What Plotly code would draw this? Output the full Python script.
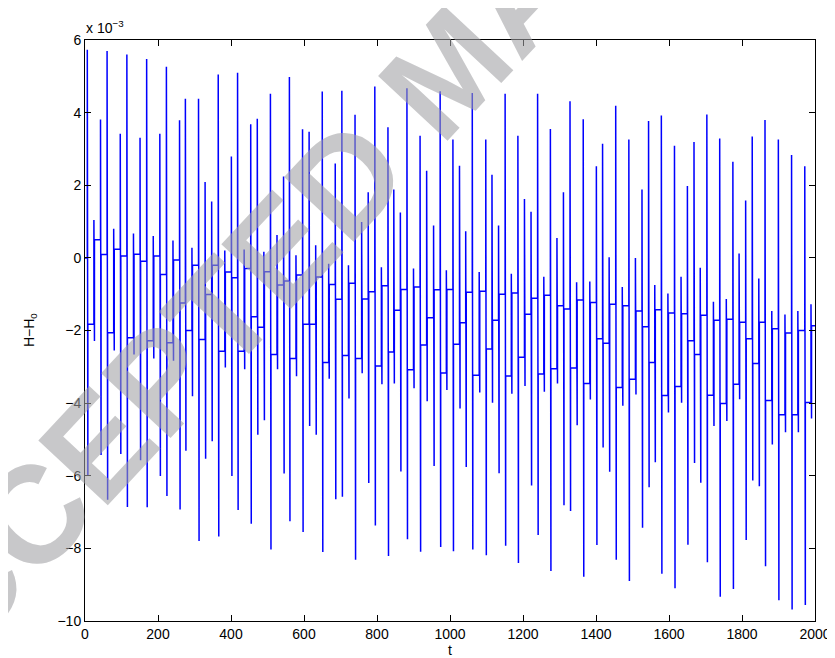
import plotly.graph_objects as go

# Values of H-H0 are in units of 1e-3 (axis carries the "x 10^-3" multiplier)
spike_t = [6.3, 24.4, 42.5, 60.5, 78.6, 96.6, 114.7, 132.8, 150.8, 168.9,
           187, 205, 223, 241, 259, 275, 293, 311, 329, 347,
           365, 383, 401, 418, 436, 454, 472, 490, 508, 526,
           544, 560, 578, 596, 614, 632, 650,
           667.6, 685.6, 703.7, 721.8, 739.8, 757.9, 775.9, 794, 812, 830,
           846, 864, 882, 900, 918, 936, 955, 973,
           990, 1008, 1026, 1043, 1061, 1080, 1098, 1115, 1133, 1151,
           1168, 1186, 1204, 1222, 1240, 1257, 1275, 1293,
           1310.8, 1328.8, 1346.9, 1365, 1383, 1401, 1418, 1436, 1454, 1472,
           1490, 1508, 1526, 1544, 1561, 1579, 1597, 1615, 1633,
           1650.4, 1668.5, 1685.6, 1703.7, 1721.7, 1738.9, 1757, 1775, 1792, 1810,
           1828, 1846, 1863, 1881.6, 1899.6, 1917.7, 1935.8, 1953, 1972, 1989]

spike_top = [5.73, 1.04, 3.81, 5.70, 0.80, 3.42, 5.60, 0.67, 3.31, 5.48,
             0.60, 3.42, 5.26, 0.48, 3.79, 4.38, 0.28, 4.38, 2.09, 1.55,
             5.05, 0.20, 2.79, 5.10, 0.23, 3.68, 3.83, 0.17, 4.52, 0.63,
             2.24, 4.98, 0.07, 3.54, 3.47, 0.35, 4.58,
             -0.16, 2.60, 4.60, -0.20, 3.94, 0.99, 1.81, 4.72, -0.26, 3.60,
             1.88, 1.25, 4.67, -0.29, 3.36, 2.40, 0.89, 4.59,
             -0.34, 3.26, 2.54, 0.73, 4.54, -0.39, 3.26, 2.29, 0.89, 4.52,
             -0.44, 3.36, 1.62, 1.27, 4.52, -0.52, 3.55, 0.55,
             1.81, 4.31, -0.67, 3.82, -0.65, 2.52, 3.14, 0.02, 4.19, -0.80,
             3.26, 0.00, 1.88, 3.77, -0.75, 3.92, -0.98, 3.09, -0.52,
             1.98, 3.19, -0.27, 3.95, -1.21, 3.29, -1.13, 2.65, 0.12, 1.58,
             3.34, -0.57, 3.80, -1.46, 3.26, -1.56, 2.83, -1.46, 2.52, -1.28]

spike_bottom = [-6.01, -2.29, -5.43, -6.66, -2.55, -5.40, -6.86, -2.66, -5.57, -6.87,
                -2.77, -6.01, -6.56, -2.83, -6.93, -5.31, -3.81, -7.80, -5.53, -5.05,
                -7.67, -3.02, -6.01, -6.94, -3.07, -7.32, -4.87, -4.47, -8.03, -3.07,
                -5.94, -7.25, -3.26, -7.55, -4.63, -4.87, -8.10,
                -3.33, -6.65, -6.58, -3.87, -8.31, -3.18, -6.20, -7.37, -3.48, -8.21,
                -3.46, -5.88, -7.75, -3.59, -8.09, -3.95, -5.73, -7.96,
                -3.64, -8.08, -4.15, -5.76, -8.03, -3.71, -8.19, -3.99, -5.93, -7.93,
                -3.74, -8.40, -3.53, -6.27, -7.63, -3.69, -8.62, -3.46,
                -6.81, -6.97, -4.61, -8.78, -3.90, -7.91, -5.22, -5.89, -8.31, -4.07,
                -8.90, -3.76, -7.43, -6.32, -5.63, -8.70, -4.26, -9.10, -3.99,
                -7.90, -5.65, -6.19, -8.38, -4.63, -9.33, -4.49, -9.12, -3.89, -7.77,
                -6.13, -6.29, -8.49, -5.14, -9.43, -4.80, -9.68, -4.80, -9.56, -4.42]

plateau_after = [-1.83, 0.50, 0.09, -2.06, 0.24, 0.05, -2.20, 0.10, -0.09, -2.28,
                 0.05, -0.46, -2.34, -0.06, -1.24, -2.00, -0.20, -2.25, -1.01, -0.20,
                 -2.57, -0.39, -0.55, -2.57, -0.29, -1.62, -1.91, -0.38, -2.66, -0.75,
                 -0.64, -2.77, -0.47, -1.83, -1.83, -0.53, -2.88,
                 -0.73, -1.14, -2.69, -0.70, -2.77, -1.13, -0.93, -2.98, -0.77, -2.59,
                 -1.44, -0.87, -3.08, -0.80, -2.40, -1.65, -0.88, -3.17,
                 -0.87, -2.38, -1.79, -0.95, -3.23, -0.92, -2.51, -1.72, -1.00, -3.25,
                 -0.97, -2.74, -1.55, -1.11, -3.20, -1.03, -3.05, -1.32,
                 -1.41, -3.03, -1.16, -3.46, -1.23, -2.23, -2.35, -1.28, -3.57, -1.32,
                 -3.34, -1.46, -1.90, -2.88, -1.43, -3.79, -1.52, -3.54, -1.54,
                 -2.28, -2.66, -1.58, -3.78, -1.72, -4.01, -1.69, -3.48, -1.77, -2.23,
                 -2.91, -1.77, -3.93, -1.95, -4.32, -2.07, -4.32, -2.00, -3.98, -1.87]

t_start, h_start = 0.0, 0.0
t_end = 2000.0
x_ticks = list(range(0, 2001, 200))
y_ticks = list(range(-10, 7, 2))

# build the polyline: plateau -> spike top -> spike bottom -> new plateau
xs = [t_start]
ys = [h_start]
prev = h_start
for t, top, bot, lev in zip(spike_t, spike_top, spike_bottom, plateau_after):
    xs += [t, t, t + 1.5, t + 1.5]
    ys += [prev, top, bot, lev]
    prev = lev
xs.append(t_end)
ys.append(prev)

FONT = "Liberation Sans, Arial, Helvetica, sans-serif"

fig = go.Figure()
fig.add_trace(go.Scatter(x=xs, y=ys, mode="lines",
                         line=dict(color="#0000ff", width=1.5),
                         hoverinfo="skip", showlegend=False))

axis_common = dict(showline=True, linecolor="black", linewidth=1,
                   mirror="allticks", ticks="inside", ticklen=6,
                   tickcolor="black", tickwidth=1, showgrid=False,
                   zeroline=False,
                   tickfont=dict(family=FONT, size=14, color="black"))

fig.update_layout(
    width=835, height=658, autosize=False,
    margin=dict(l=77, r=20, t=32, b=45, pad=0),
    plot_bgcolor="white", paper_bgcolor="white",
    xaxis=dict(range=[0, 2000], tickvals=x_ticks, **axis_common),
    yaxis=dict(range=[-10, 6], tickvals=y_ticks, **axis_common),
    font=dict(family=FONT, color="black"),
)

fig.add_annotation(xref="paper", yref="paper", x=0, y=1.005,
                   xanchor="left", yanchor="bottom", showarrow=False,
                   text="x 10<sup>\u22123</sup>", borderpad=0,
                   font=dict(family=FONT, size=14, color="black"))
fig.add_annotation(xref="paper", yref="paper", x=-0.0759, y=0.5,
                   xanchor="center", yanchor="middle", showarrow=False,
                   textangle=-90, text="H\u2212H<sub>0</sub>", borderpad=0,
                   font=dict(family=FONT, size=14, color="black"))
fig.add_annotation(xref="paper", yref="paper", x=0.5, y=-0.05,
                   xanchor="center", yanchor="middle", showarrow=False,
                   text="t", borderpad=0,
                   font=dict(family=FONT, size=14, color="black"))

# watermark
fig.add_annotation(xref="paper", yref="paper", x=0.497, y=0.949,
                   xanchor="center", yanchor="middle", showarrow=False,
                   textangle=-47, text="<b>ACCEPTED MANUSCRIPT</b>",
                   font=dict(family=FONT, size=138, color="rgba(160,160,163,0.58)"))

fig.write_html("out.html")
